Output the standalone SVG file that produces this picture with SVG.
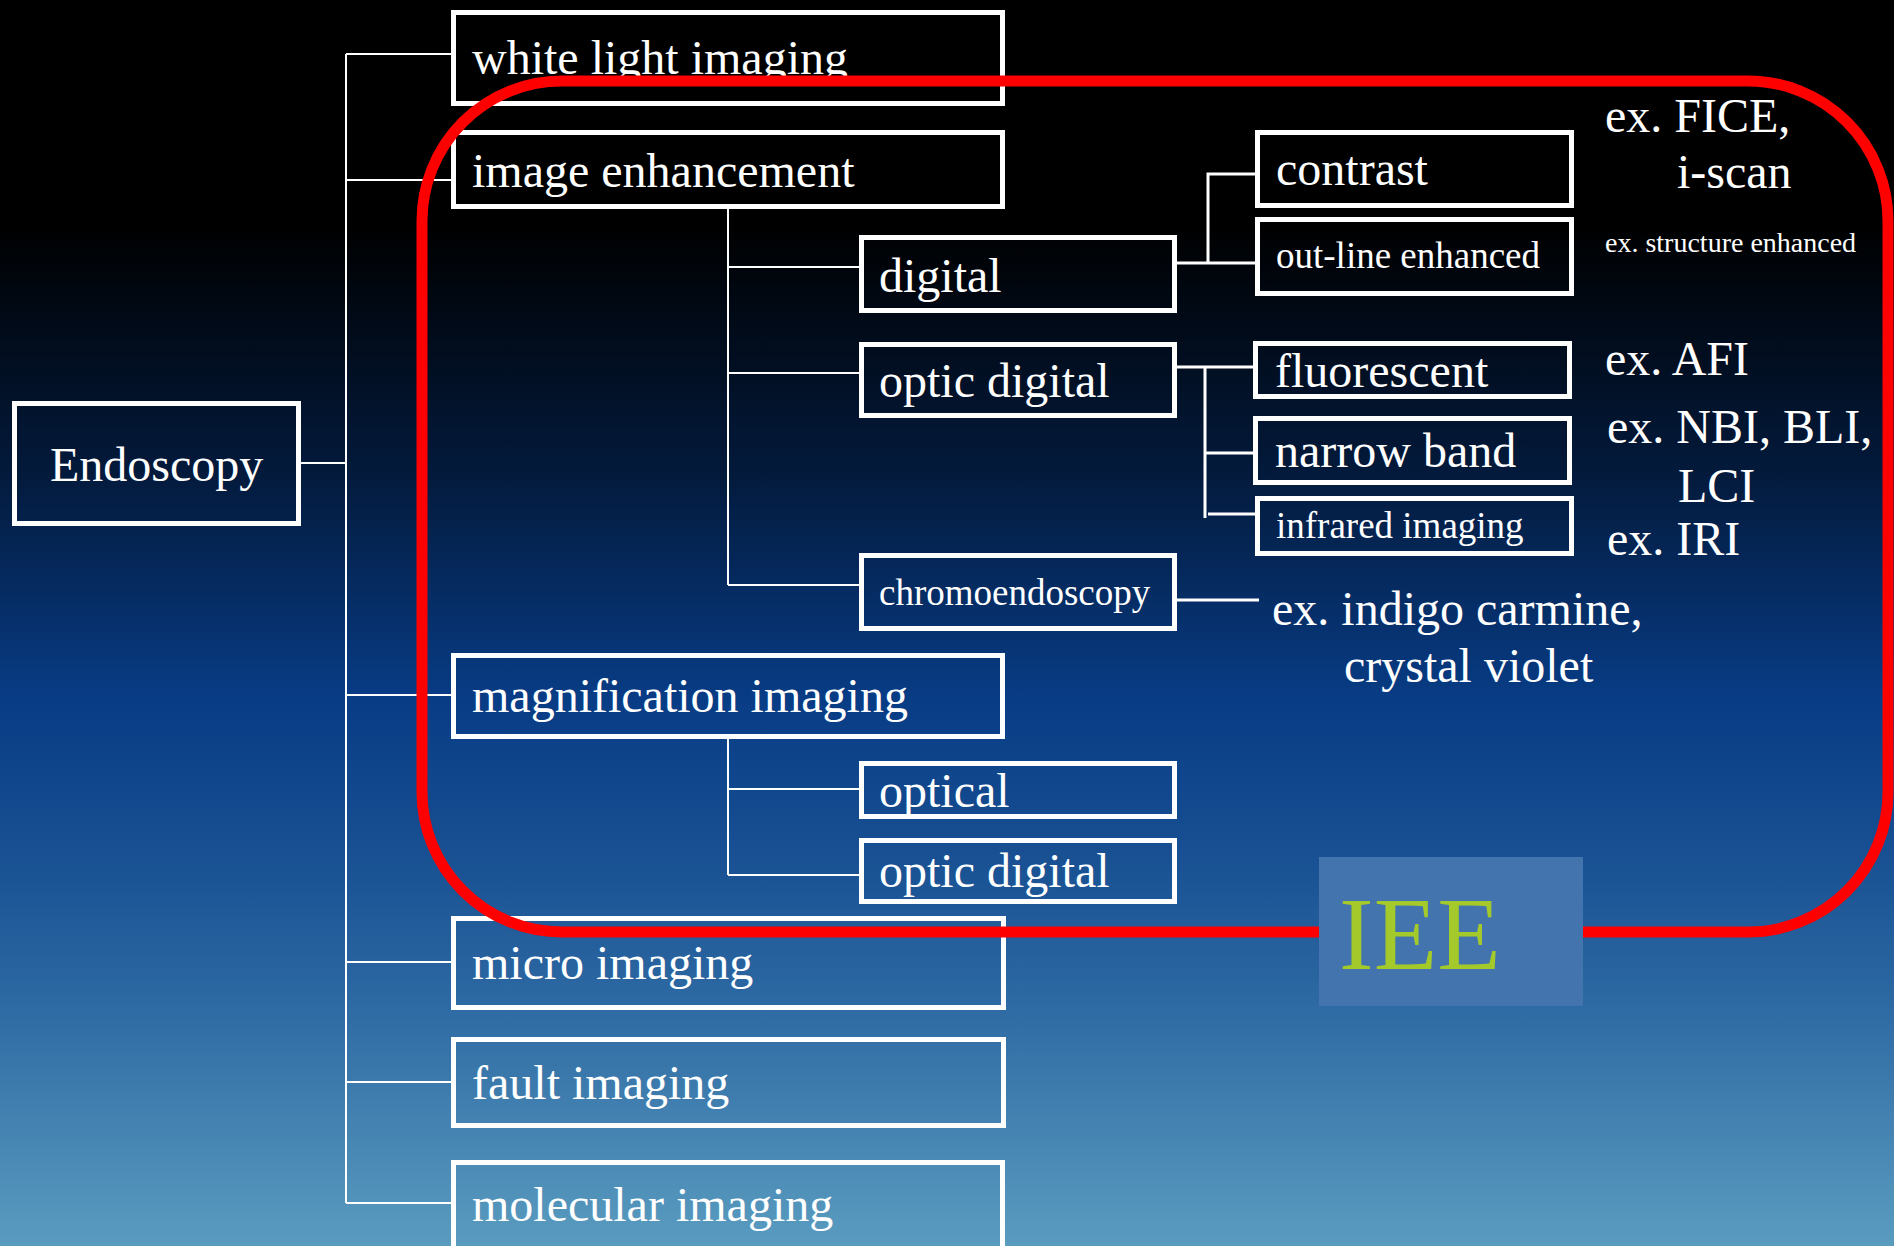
<svg xmlns="http://www.w3.org/2000/svg" width="1894" height="1246" viewBox="0 0 1894 1246">
<defs>
<linearGradient id="bg" x1="0" y1="0" x2="0" y2="1">
<stop offset="0" stop-color="#000000"/>
<stop offset="0.18" stop-color="#000000"/>
<stop offset="0.38" stop-color="#031a3c"/>
<stop offset="0.56" stop-color="#083c85"/>
<stop offset="0.68" stop-color="#174f92"/>
<stop offset="0.8" stop-color="#2c68a2"/>
<stop offset="1" stop-color="#5a9cc0"/>
</linearGradient>
<style>
.box{fill:none;stroke:#ffffff;stroke-width:5}
.t{font-family:"Liberation Serif","Times New Roman",serif;fill:#ffffff}
.l{font-size:48px}
.m{font-size:37px}
.s{font-size:28px}
.c{stroke:#ffffff;fill:none}
.c2{stroke-width:2}
.c3{stroke-width:3}
</style>
</defs>
<rect x="0" y="0" width="1894" height="1246" fill="url(#bg)"/>
<g id="connectors" class="c">
<path class="c2" d="M346 54V1203M346 54H453M346 180H453M301 463H346M346 695H453M346 962H453M346 1082H453M346 1203H453"/>
<path class="c2" d="M728 209V585M728 267H861M728 373H861M728 585H861M728 739V875M728 789H861M728 875H861"/>
<path class="c3" d="M1177 263H1259M1208 263V174H1257M1177 367H1255M1205 367V518M1205 453H1255M1208 514H1257M1177 600H1259"/>
</g>
<g id="n-endoscopy"><rect class="box" x="14.5" y="403.5" width="284" height="120"/><text class="t l" x="50" y="481">Endoscopy</text></g>
<g id="n-white"><rect class="box" x="453.5" y="12.5" width="549" height="91"/><text class="t l" x="472" y="74">white light imaging</text></g>
<g id="n-image"><rect class="box" x="453.5" y="132.5" width="549" height="74"/><text class="t l" x="472" y="187">image enhancement</text></g>
<g id="n-digital"><rect class="box" x="861.5" y="237.5" width="313" height="73"/><text class="t l" x="879" y="292">digital</text></g>
<g id="n-opticdigital"><rect class="box" x="861.5" y="344.5" width="313" height="71"/><text class="t l" x="879" y="397">optic digital</text></g>
<g id="n-chromo"><rect class="box" x="861.5" y="555.5" width="313" height="73"/><text class="t m" x="879" y="605">chromoendoscopy</text></g>
<g id="n-magnification"><rect class="box" x="453.5" y="655.5" width="549" height="81"/><text class="t l" x="472" y="712">magnification imaging</text></g>
<g id="n-optical"><rect class="box" x="861.5" y="763.5" width="313" height="53"/><text class="t l" x="879" y="807">optical</text></g>
<g id="n-opticdigital2"><rect class="box" x="861.5" y="840.5" width="313" height="61"/><text class="t l" x="879" y="887">optic digital</text></g>
<g id="n-micro"><rect class="box" x="453.5" y="918.5" width="550" height="89"/><text class="t l" x="472" y="979">micro imaging</text></g>
<g id="n-fault"><rect class="box" x="453.5" y="1039.5" width="550" height="86"/><text class="t l" x="472" y="1099">fault imaging</text></g>
<g id="n-molecular"><rect class="box" x="453.5" y="1162.5" width="549" height="100"/><text class="t l" x="472" y="1221">molecular imaging</text></g>
<g id="n-contrast"><rect class="box" x="1257.5" y="132.5" width="314" height="73"/><text class="t l" x="1276" y="185">contrast</text></g>
<g id="n-outline"><rect class="box" x="1257.5" y="219.5" width="314" height="74"/><text class="t m" x="1276" y="268">out-line enhanced</text></g>
<g id="n-fluorescent"><rect class="box" x="1255.5" y="343.5" width="314" height="53"/><text class="t l" x="1275" y="387">fluorescent</text></g>
<g id="n-narrow"><rect class="box" x="1255.5" y="418.5" width="314" height="64"/><text class="t l" x="1275" y="467">narrow band</text></g>
<g id="n-infrared"><rect class="box" x="1257.5" y="498.5" width="314" height="55"/><text class="t m" x="1276" y="538">infrared imaging</text></g>
<g id="notes">
<text class="t l" x="1605" y="132">ex. FICE,</text>
<text class="t l" x="1677" y="188">i-scan</text>
<text class="t s" x="1605" y="252">ex. structure enhanced</text>
<text class="t l" x="1605" y="375">ex. AFI</text>
<text class="t l" x="1607" y="443">ex. NBI, BLI,</text>
<text class="t l" x="1678" y="502">LCI</text>
<text class="t l" x="1607" y="555">ex. IRI</text>
<text class="t l" x="1272" y="625">ex. indigo carmine,</text>
<text class="t l" x="1344" y="682">crystal violet</text>
</g>
<g id="iee-frame">
<rect x="422" y="81" width="1466" height="851" rx="140" ry="140" fill="none" stroke="#ff0000" stroke-width="11"/>
<rect x="1319" y="857" width="264" height="149" fill="#4374ae"/>
<text x="1339" y="969" font-family="Liberation Serif, serif" font-size="104" fill="#a4c92a">IEE</text>
</g>
</svg>
